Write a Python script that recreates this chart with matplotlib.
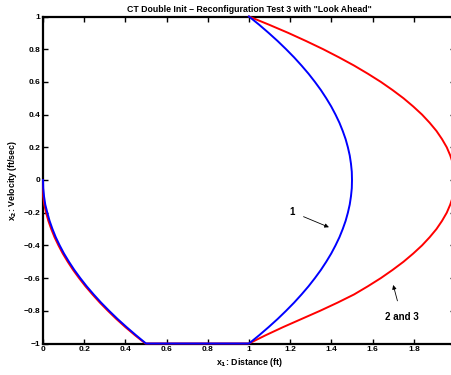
import matplotlib
matplotlib.use("Agg")
import matplotlib.pyplot as plt

# Data (x1 distance, x2 velocity)
# Curve 1 (blue): left branch, bottom segment, right loop
blue_x = [0.0, 0.001, 0.005, 0.011, 0.021, 0.032, 0.046, 0.062, 0.081, 0.102,
          0.126, 0.152, 0.181, 0.212, 0.246, 0.282, 0.321, 0.362, 0.406, 0.452, 0.5,
          1.0, 1.049, 1.095, 1.139, 1.18, 1.219, 1.255, 1.289, 1.32, 1.349, 1.375,
          1.399, 1.42, 1.439, 1.455, 1.469, 1.48, 1.489, 1.495, 1.499, 1.5,
          1.499, 1.495, 1.489, 1.48, 1.469, 1.455, 1.439, 1.42, 1.399, 1.375,
          1.349, 1.32, 1.289, 1.255, 1.219, 1.18, 1.139, 1.095, 1.049, 1.0]
blue_v = [0.0, -0.05, -0.10, -0.15, -0.20, -0.25, -0.30, -0.35, -0.40, -0.45,
          -0.50, -0.55, -0.60, -0.65, -0.70, -0.75, -0.80, -0.85, -0.90, -0.95, -1.0,
          -1.0, -0.95, -0.90, -0.85, -0.80, -0.75, -0.70, -0.65, -0.60, -0.55, -0.50,
          -0.45, -0.40, -0.35, -0.30, -0.25, -0.20, -0.15, -0.10, -0.05, 0.0,
          0.05, 0.10, 0.15, 0.20, 0.25, 0.30, 0.35, 0.40, 0.45, 0.50,
          0.55, 0.60, 0.65, 0.70, 0.75, 0.80, 0.85, 0.90, 0.95, 1.0]

# Curves 2 and 3 (red)
red_x = [0.0, 0.0, 0.001, 0.006, 0.015, 0.026, 0.040, 0.056, 0.075, 0.096,
         0.120, 0.146, 0.175, 0.206, 0.240, 0.276, 0.315, 0.356, 0.400, 0.447, 0.497,
         1.0, 1.08, 1.165, 1.255, 1.345, 1.43, 1.51, 1.577, 1.64, 1.697, 1.75,
         1.797, 1.84, 1.877, 1.91, 1.937, 1.96, 1.977, 1.99, 1.997, 2.0,
         1.997, 1.99, 1.977, 1.96, 1.937, 1.91, 1.877, 1.84, 1.797, 1.75,
         1.697, 1.64, 1.577, 1.51, 1.437, 1.36, 1.277, 1.19, 1.097, 1.0]
red_v = [0.0, -0.05, -0.10, -0.15, -0.20, -0.25, -0.30, -0.35, -0.40, -0.45,
         -0.50, -0.55, -0.60, -0.65, -0.70, -0.75, -0.80, -0.85, -0.90, -0.95, -1.0,
         -1.0, -0.95, -0.90, -0.85, -0.80, -0.75, -0.70, -0.65, -0.60, -0.55, -0.50,
         -0.45, -0.40, -0.35, -0.30, -0.25, -0.20, -0.15, -0.10, -0.05, 0.0,
         0.05, 0.10, 0.15, 0.20, 0.25, 0.30, 0.35, 0.40, 0.45, 0.50,
         0.55, 0.60, 0.65, 0.70, 0.75, 0.80, 0.85, 0.90, 0.95, 1.0]

xticks = [0, 0.2, 0.4, 0.6, 0.8, 1, 1.2, 1.4, 1.6, 1.8]
yticks = [-1, -0.8, -0.6, -0.4, -0.2, 0, 0.2, 0.4, 0.6, 0.8, 1]

plt.rcParams['font.family'] = ['Liberation Sans', 'DejaVu Sans']
plt.rcParams['font.weight'] = 'bold'

fig = plt.figure(figsize=(4.52, 3.75), dpi=100)
W, H = 452.0, 375.0
ax = fig.add_axes([43 / W, 1 - 343.5 / H, (455 - 43) / W, (343.5 - 16.5) / H])

ax.plot(red_x, red_v, color='#ff0000', lw=1.4, clip_on=False, zorder=3)
ax.plot(blue_x, blue_v, color='#0000ff', lw=1.4, clip_on=False, zorder=3)

ax.set_xlim(0, 2)
ax.set_ylim(-1, 1)
ax.set_xticks(xticks)
ax.set_xticklabels([f"{t:g}" for t in xticks])
ax.set_yticks(yticks)
ax.set_yticklabels([f"{t:g}".replace('-', '\u2212') for t in yticks])
ax.tick_params(direction='in', length=3.5, width=1.0, top=True, right=True,
               labelsize=6, pad=2)
for lab in ax.get_xticklabels() + ax.get_yticklabels():
    lab.set_fontweight('bold')
for sp in ax.spines.values():
    sp.set_linewidth(1.6)

ax.set_title('CT Double Init \u2013 Reconfiguration Test 3 with "Look Ahead"',
             fontsize=6.3, fontweight='bold', pad=3)
ax.set_xlabel(r'x$_\mathbf{1}$: Distance (ft)', fontsize=6.3, fontweight='bold', labelpad=2)
ax.set_ylabel(r'x$_\mathbf{2}$: Velocity (ft/sec)', fontsize=6.3, fontweight='bold', labelpad=3)

# Annotations
ax.annotate('1', xy=(1.388, -0.289), xytext=(1.207, -0.194),
            fontsize=7, fontweight='bold', ha='center', va='center',
            arrowprops=dict(arrowstyle='-|>', color='black', lw=0.6,
                            mutation_scale=6, shrinkA=5, shrinkB=0))
ax.annotate('2 and 3', xy=(1.700, -0.642), xytext=(1.741, -0.836),
            fontsize=7, fontweight='bold', ha='center', va='center',
            arrowprops=dict(arrowstyle='-|>', color='black', lw=0.6,
                            mutation_scale=6, shrinkA=6, shrinkB=0))

fig.savefig('out.png', dpi=100)
